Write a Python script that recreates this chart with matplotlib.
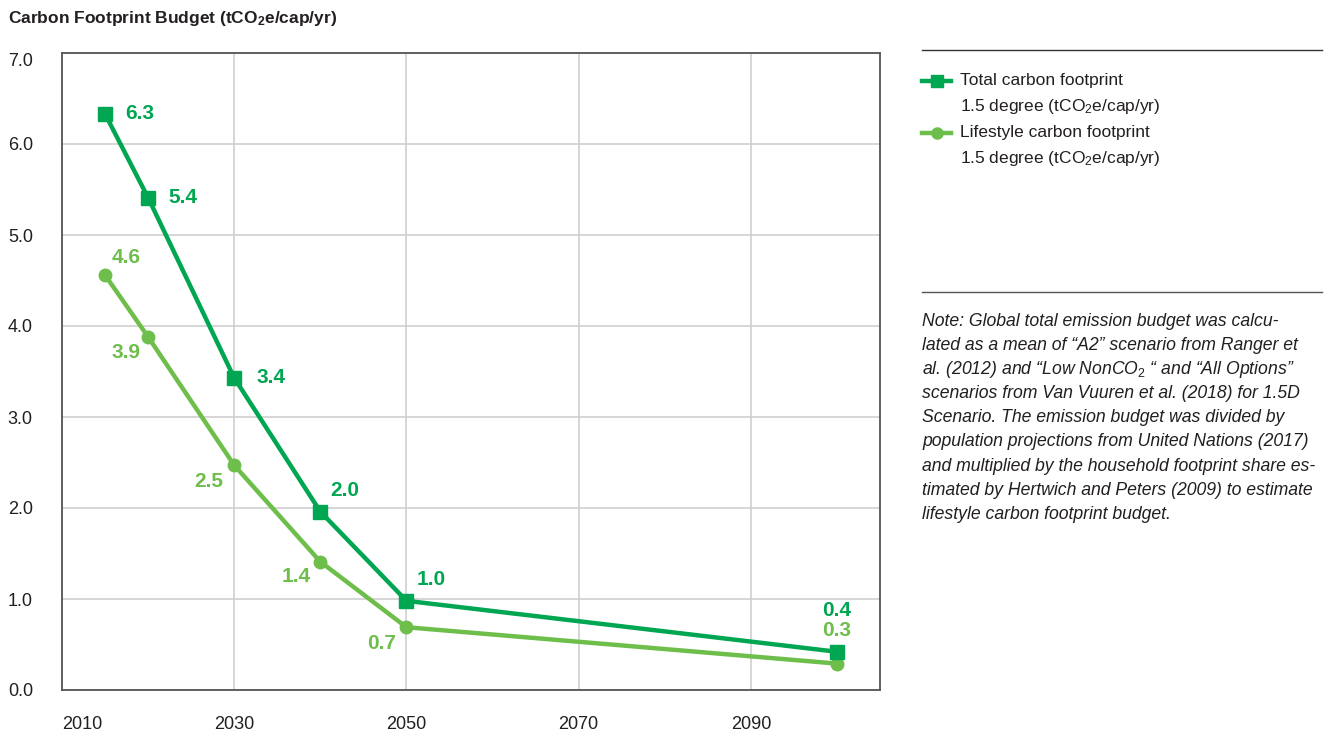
import matplotlib
matplotlib.use("Agg")
import matplotlib.pyplot as plt
from matplotlib.lines import Line2D

# data
years = [2015, 2020, 2030, 2040, 2050, 2100]
total_fp = [6.33, 5.41, 3.43, 1.96, 0.98, 0.42]
lifestyle_fp = [4.56, 3.88, 2.47, 1.41, 0.69, 0.29]
x_ticks = [2010, 2030, 2050, 2070, 2090]
y_ticks = [0, 1, 2, 3, 4, 5, 6, 7]

plt.rcParams["font.family"] = ["Liberation Sans", "DejaVu Sans"]
plt.rcParams["mathtext.fontset"] = "custom"
plt.rcParams["mathtext.rm"] = "Liberation Sans"
plt.rcParams["mathtext.it"] = "Liberation Sans:italic"
plt.rcParams["mathtext.bf"] = "Liberation Sans:bold"

dark_green = "#00A651"
light_green = "#6DBE4B"
text_col = "#231F20"

W, H = 1337, 736
fig = plt.figure(figsize=(W / 100, H / 100), dpi=100)


def fx(px):
    return px / W


def fy(py):
    return 1 - py / H


ax = fig.add_axes([fx(62), fy(690), fx(880) - fx(62), fy(53) - fy(690)])
ax.set_xlim(2010, 2105)
ax.set_ylim(0, 7.0)
ax.set_xticks(x_ticks)
ax.set_yticks(y_ticks)
ax.set_xticklabels([str(t) for t in x_ticks], fontsize=13, color=text_col)
ax.set_yticklabels(["%.1f" % t for t in y_ticks], fontsize=13, color=text_col,
                   ha="left")
ax.tick_params(axis="both", length=0)
ax.tick_params(axis="x", pad=19)
ax.tick_params(axis="y", pad=39)
ax.get_xticklabels()[0].set_ha("left")
ax.get_yticklabels()[-1].set_va("top")
ax.grid(True, color="#cfcfcf", linewidth=1.2)
ax.set_axisbelow(True)
for s in ["left", "bottom", "right"]:
    ax.spines[s].set_color("#555555")
    ax.spines[s].set_linewidth(1.3)
ax.spines["top"].set_visible(False)
ax.axhline(7.0, color="#555555", linewidth=1.3, clip_on=False)

ax.plot(years, lifestyle_fp, color=light_green, lw=3.2, marker="o", ms=9,
        zorder=3)
ax.plot(years, total_fp, color=dark_green, lw=3.2, marker="s", ms=10,
        zorder=4)

# label offsets in pixels (dx, dy), y up
tot_off = [(20, 0, "left"), (20, 0, "left"), (22, 0, "left"),
           (10, 21, "left"), (10, 21, "left"), (0, 41, "center")]
life_off = [(21, 18, "center"), (-22, -16, "center"), (-25, -16, "center"),
            (-24, -15, "center"), (-25, -16, "center"), (0, 33, "center")]
for x, y, (dx, dy, ha) in zip(years, total_fp, tot_off):
    ax.annotate("%.1f" % y, (x, y), xytext=(dx * 0.72, dy * 0.72),
                textcoords="offset points", ha=ha, va="center",
                fontsize=15, fontweight="bold", color=dark_green)
for x, y, (dx, dy, ha) in zip(years, lifestyle_fp, life_off):
    ax.annotate("%.1f" % y, (x, y), xytext=(dx * 0.72, dy * 0.72),
                textcoords="offset points", ha=ha, va="center",
                fontsize=15, fontweight="bold", color=light_green)

# title
fig.text(fx(8), fy(18), r"Carbon Footprint Budget (tCO$\mathbf{_2}$e/cap/yr)",
         fontsize=12.5, fontweight="bold", color=text_col, va="center")

# legend block
fig.add_artist(Line2D([fx(922), fx(1322)], [fy(50), fy(50)],
                      transform=fig.transFigure, color="#333333", lw=1))
fig.add_artist(Line2D([fx(922), fx(1322)], [fy(292), fy(292)],
                      transform=fig.transFigure, color="#555555", lw=1))
legend_items = [("Total carbon footprint", dark_green, "s", 81),
                ("Lifestyle carbon footprint", light_green, "o", 133)]
for label, col, mk, py in legend_items:
    fig.add_artist(Line2D([fx(922), fx(936.5), fx(951)], [fy(py)] * 3,
                          transform=fig.transFigure, color=col, lw=3.2,
                          marker=mk, ms=8, markevery=[1]))
    fig.text(fx(960), fy(py), label, fontsize=12.5, color=text_col,
             va="center")
    fig.text(fx(960), fy(py + 26), r"1.5 degree (tCO$_2$e/cap/yr)",
             fontsize=12.5, color=text_col, va="center")

note_lines = [
    "Note: Global total emission budget was calcu-",
    "lated as a mean of \u201cA2\u201d scenario from Ranger et",
    "al. (2012) and \u201cLow NonCO$\\mathit{_2}$ \u201c and \u201cAll Options\u201d",
    "scenarios from Van Vuuren et al. (2018) for 1.5D",
    "Scenario. The emission budget was divided by",
    "population projections from United Nations (2017)",
    "and multiplied by the household footprint share es-",
    "timated by Hertwich and Peters (2009) to estimate",
    "lifestyle carbon footprint budget.",
]
for i, line in enumerate(note_lines):
    fig.text(fx(922), fy(321 + i * 24.2), line, fontsize=12.7,
             style="italic", color=text_col, va="center")

fig.savefig("out.png", dpi=100)
